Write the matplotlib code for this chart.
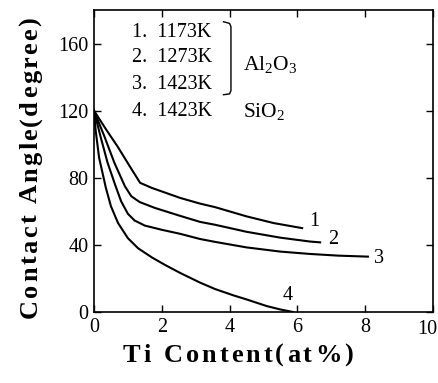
import matplotlib
matplotlib.use("Agg")
import matplotlib.pyplot as plt
from matplotlib.font_manager import FontProperties
from matplotlib.textpath import text_to_path

# Contact angle vs Ti content
ti_1173_al2o3 = [0, 0.35, 0.7, 1.05, 1.36, 1.7, 2.54, 3.13, 3.57, 4.5, 5.3, 6.14]
ang_1173_al2o3 = [120, 109, 98.5, 87, 77, 74, 68, 64.6, 62.5, 57, 53, 50]

ti_1273_al2o3 = [0, 0.3, 0.6, 0.91, 1.1, 1.35, 1.8, 2.54, 3.13, 3.57, 4.5, 5.5, 6.37, 6.67]
ang_1273_al2o3 = [120, 105, 89, 75, 69, 65.5, 62, 57.3, 53.7, 52, 47.8, 44.3, 42, 41.5]

ti_1423_al2o3 = [0, 0.2, 0.4, 0.62, 0.8, 1.0, 1.2, 1.5, 2.0, 2.54, 3.13, 3.57, 4.5, 5.5, 6.37, 7.2, 8.08]
ang_1423_al2o3 = [120, 104, 89, 76, 66, 58.5, 54.5, 51.5, 49, 46.6, 43.5, 41.8, 38.5, 36, 34.6, 33.6, 33]

ti_1423_sio2 = [0, 0.05, 0.15, 0.35, 0.5, 0.71, 1.0, 1.3, 1.71, 2.1, 2.54, 3.13, 3.57, 4.1, 4.5, 5.1, 5.5, 5.87]
ang_1423_sio2 = [120, 108, 92, 74, 63, 53, 44, 38, 32.5, 28, 23.3, 17.5, 13.7, 10, 7.5, 3.5, 1.5, 0]

curve_numbers = ["1", "2", "3", "4"]
number_x = [6.5, 7.05, 8.4, 5.72]
number_y = [53.7, 43, 32, 10]

legend_rows = ["1.  1173K", "2.  1273K", "3.  1423K", "4.  1423K"]
legend_y = [166.6, 151.6, 135.5, 119.4]

x_ticks = [0, 2, 4, 6, 8, 10]
y_ticks = [0, 40, 80, 120, 160]

x_title = "Ti Content(at%)"
y_title = "Contact Angle(degree)"

plt.rcParams["font.family"] = ["Liberation Serif", "DejaVu Serif"]
plt.rcParams["mathtext.fontset"] = "custom"
plt.rcParams["mathtext.rm"] = "Liberation Serif"
plt.rcParams["mathtext.it"] = "Liberation Serif:italic"
plt.rcParams["mathtext.bf"] = "Liberation Serif:bold"

DPI = 100
fig = plt.figure(figsize=(4.38, 3.83), dpi=DPI)
ax = fig.add_axes([94 / 438, 71 / 383, 339 / 438, 302 / 383])

lw = 1.5
for xs, ys in [(ti_1173_al2o3, ang_1173_al2o3), (ti_1273_al2o3, ang_1273_al2o3),
               (ti_1423_al2o3, ang_1423_al2o3), (ti_1423_sio2, ang_1423_sio2)]:
    ax.plot(xs, ys, color="black", lw=lw, solid_joinstyle="round")

for label, x, y in zip(curve_numbers, number_x, number_y):
    ax.text(x, y, label, fontsize=14.5, ha="center", va="center")

for row, y in zip(legend_rows, legend_y):
    ax.text(1.12, y, row, fontsize=14.5, ha="left", va="center")

# bracket grouping the three alumina rows
ax.plot([3.82, 4.0, 4.04, 4.04, 4.0, 3.82],
        [173, 172, 170, 132, 130, 129.5], color="black", lw=1.0)
ax.text(4.4, 147.5, r"Al$_2$O$_3$", fontsize=15.5, ha="left", va="center")
ax.text(4.4, 119.4, r"SiO$_2$", fontsize=15.5, ha="left", va="center")

ax.set_xlim(0, 10)
ax.set_ylim(0, 180)
ax.set_xticks(x_ticks)
ax.set_yticks(y_ticks)
ax.set_xticklabels([str(t) for t in x_ticks[:-1]] + [""])
ax.tick_params(direction="in", length=5, width=1.0, labelsize=14.5, pad=4,
               top=True, right=True)
# last x label nudged left so it stays inside the figure
ax.annotate(str(x_ticks[-1]), xy=(x_ticks[-1], 0), xycoords="data",
            xytext=(-4, -6), textcoords="offset points",
            fontsize=14.5, ha="center", va="top", annotation_clip=False)
for sp in ax.spines.values():
    sp.set_linewidth(1.2)


def advance(ch, prop):
    """Advance width of one character, in points."""
    w2 = text_to_path.get_text_width_height_descent("H" + ch + "H", prop, False)[0]
    w1 = text_to_path.get_text_width_height_descent("HH", prop, False)[0]
    return w2 - w1


def tracked_text(s, start_px, end_px, base_px, size, vertical=False):
    """Lay out a bold title letter by letter so it spans start..end pixels,
    with every glyph sitting on the same baseline."""
    prop = FontProperties(family="Liberation Serif", weight="bold", size=size)
    widths = [advance(c, prop) for c in s]
    natural = sum(widths) * DPI / 72.0
    track = (abs(end_px - start_px) - natural) / (len(s) - 1)
    pos = 0.0
    for c, w in zip(s, widths):
        wpx = w * DPI / 72.0
        if vertical:
            y = 383 - start_px + pos + wpx / 2
            fig.text(base_px / 438, y / 383, c, fontproperties=prop,
                     ha="center", va="baseline", rotation=90,
                     rotation_mode="anchor")
        else:
            x = start_px + pos + wpx / 2
            fig.text(x / 438, 1 - base_px / 383, c, fontproperties=prop,
                     ha="center", va="baseline")
        pos += wpx + track


tracked_text(x_title, 123, 353, 362, 19)
tracked_text(y_title, 318, 17, 37, 19, vertical=True)

fig.savefig("out.png", dpi=DPI)
